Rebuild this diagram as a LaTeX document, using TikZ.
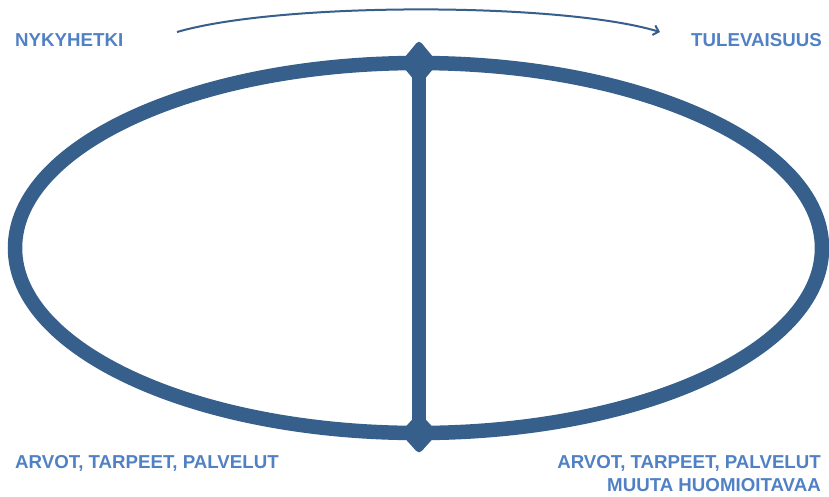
\documentclass[tikz,border=0pt]{standalone}
\usepackage{fontspec}
\setmainfont{Liberation Sans}
\usetikzlibrary{arrows.meta}
\definecolor{ringblue}{HTML}{375F8B}
\definecolor{txtblue}{HTML}{4F81C4}
\begin{document}
\begin{tikzpicture}[x=1pt,y=-1pt,
  lbl/.style={text=txtblue,font=\fontsize{18.7}{22}\selectfont\bfseries,inner sep=0pt},
  band/.style={draw=ringblue,line width=14.5pt},
  knot/.style={fill=ringblue,rounded corners=4pt}]
\useasboundingbox (0,0) rectangle (829,496);
% ellipse
\draw[band] (418.5,248) ellipse [x radius=403.5, y radius=185];
\coordinate (top) at (419,63);
\coordinate (bot) at (419,433);
\draw[band] (top) -- (bot);
\fill[knot] (419,40) -- (438,63) -- (419,86) -- (400,63) -- cycle;
\fill[knot] (419,412) -- (438,433) -- (419,454) -- (400,433) -- cycle;
% labels
\node[lbl,anchor=west] (now) at (15,40) {NYKYHETKI};
\node[lbl,anchor=east] (fut) at (822,40) {TULEVAISUUS};
\node[lbl,anchor=west] (bl) at (15,463) {ARVOT, TARPEET, PALVELUT};
\node[lbl,anchor=east] (br1) at (821,463) {ARVOT, TARPEET, PALVELUT};
\node[lbl,anchor=east] (br2) at (821,485) {MUUTA HUOMIOITAVAA};
% arrow
\coordinate (a0) at (177,32);
\coordinate (a1) at (660,32);
\draw[ringblue,line width=2pt,-{Straight Barb[length=5pt,width=10pt]}] (a0) .. controls (280,2) and (560,2) .. (a1);
\end{tikzpicture}
\end{document}
